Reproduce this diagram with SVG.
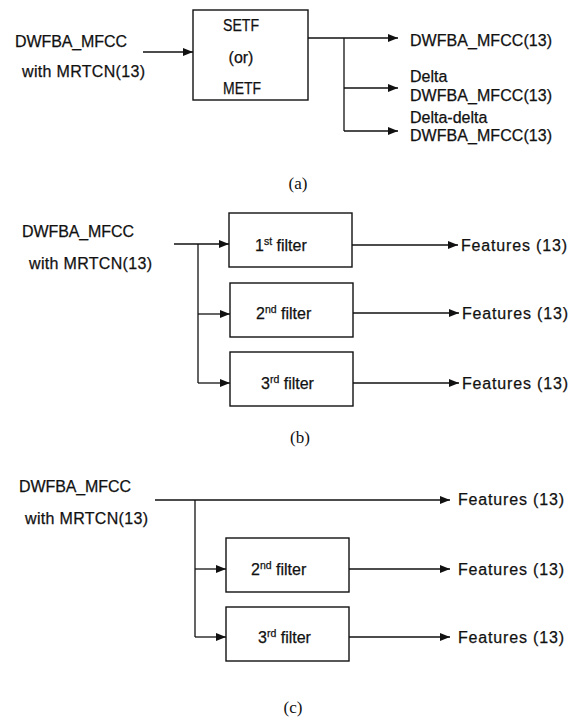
<svg xmlns="http://www.w3.org/2000/svg" width="579" height="722" viewBox="0 0 579 722">
  <style>
    .lbl { font-family: "Liberation Sans", Arial, sans-serif; font-size: 16px; fill: #111; stroke: #111; stroke-width: 0.25; }
    .cap { font-family: "Liberation Serif", "Times New Roman", serif; font-size: 17px; fill: #111; }
    .box { fill: #fff; stroke: #111; stroke-width: 1.4; }
    .wire { fill: none; stroke: #111; stroke-width: 1.3; }
    .sup { font-size: 10.5px; }
  </style>
  <defs>
    <marker id="arr" viewBox="0 0 10 8" refX="10" refY="4" markerWidth="10" markerHeight="8" markerUnits="userSpaceOnUse" orient="auto">
      <path d="M0,0 L10,4 L0,8 Z" fill="#111"/>
    </marker>
  </defs>
  <rect width="579" height="722" fill="#fff"/>

  <!-- (a) SETF / METF stage -->
  <g id="a-input">
    <text class="lbl" x="15" y="47" textLength="112" lengthAdjust="spacing">DWFBA_MFCC</text>
    <text class="lbl" x="22" y="77" textLength="123" lengthAdjust="spacing">with MRTCN(13)</text>
  </g>
  <g id="a-filter">
    <rect class="box" x="193" y="10" width="115" height="90"/>
    <text class="lbl" x="241" y="31" text-anchor="middle" textLength="36" lengthAdjust="spacingAndGlyphs">SETF</text>
    <text class="lbl" x="241" y="63" text-anchor="middle">(or)</text>
    <text class="lbl" x="242" y="94" text-anchor="middle" textLength="38" lengthAdjust="spacingAndGlyphs">METF</text>
  </g>
  <g id="a-outputs">
    <text class="lbl" x="410" y="46" textLength="142" lengthAdjust="spacing">DWFBA_MFCC(13)</text>
    <text class="lbl" x="410" y="82">Delta</text>
    <text class="lbl" x="410" y="101" textLength="142" lengthAdjust="spacing">DWFBA_MFCC(13)</text>
    <text class="lbl" x="410" y="123">Delta-delta</text>
    <text class="lbl" x="410" y="141" textLength="142" lengthAdjust="spacing">DWFBA_MFCC(13)</text>
  </g>
  <text id="cap-a" class="cap" x="298" y="189" text-anchor="middle">(a)</text>

  <!-- (b) three filters in parallel -->
  <g id="b-input">
    <text class="lbl" x="22" y="237" textLength="112" lengthAdjust="spacing">DWFBA_MFCC</text>
    <text class="lbl" x="29" y="269" textLength="123" lengthAdjust="spacing">with MRTCN(13)</text>
  </g>
  <g id="b-filter1">
    <rect class="box" x="229" y="213" width="123" height="54"/>
    <text class="lbl" x="255" y="251">1<tspan class="sup" dy="-6">st</tspan><tspan dy="6"> filter</tspan></text>
  </g>
  <g id="b-filter2">
    <rect class="box" x="230" y="283" width="123" height="54"/>
    <text class="lbl" x="256" y="319">2<tspan class="sup" dy="-6">nd</tspan><tspan dy="6"> filter</tspan></text>
  </g>
  <g id="b-filter3">
    <rect class="box" x="230" y="352" width="123" height="54"/>
    <text class="lbl" x="261" y="389">3<tspan class="sup" dy="-6">rd</tspan><tspan dy="6"> filter</tspan></text>
  </g>
  <g id="b-outputs">
    <text class="lbl" x="461" y="251" textLength="106" lengthAdjust="spacing">Features (13)</text>
    <text class="lbl" x="462" y="319" textLength="106" lengthAdjust="spacing">Features (13)</text>
    <text class="lbl" x="462" y="389" textLength="106" lengthAdjust="spacing">Features (13)</text>
  </g>
  <text id="cap-b" class="cap" x="300" y="443" text-anchor="middle">(b)</text>

  <!-- (c) bypass plus two filters -->
  <g id="c-input">
    <text class="lbl" x="19" y="492" textLength="112" lengthAdjust="spacing">DWFBA_MFCC</text>
    <text class="lbl" x="25" y="524" textLength="123" lengthAdjust="spacing">with MRTCN(13)</text>
  </g>
  <g id="c-filter2">
    <rect class="box" x="226" y="538" width="123" height="54"/>
    <text class="lbl" x="251" y="575">2<tspan class="sup" dy="-6">nd</tspan><tspan dy="6"> filter</tspan></text>
  </g>
  <g id="c-filter3">
    <rect class="box" x="226" y="607" width="123" height="54"/>
    <text class="lbl" x="258" y="643">3<tspan class="sup" dy="-6">rd</tspan><tspan dy="6"> filter</tspan></text>
  </g>
  <g id="c-outputs">
    <text class="lbl" x="458" y="505" textLength="106" lengthAdjust="spacing">Features (13)</text>
    <text class="lbl" x="458" y="575" textLength="106" lengthAdjust="spacing">Features (13)</text>
    <text class="lbl" x="458" y="643" textLength="106" lengthAdjust="spacing">Features (13)</text>
  </g>
  <text id="cap-c" class="cap" x="293" y="713" text-anchor="middle">(c)</text>

  <g id="connectors">
    <!-- (a) -->
    <path class="wire" d="M143,52 H193" marker-end="url(#arr)"/>
    <path class="wire" d="M308,38 H398" marker-end="url(#arr)"/>
    <path class="wire" d="M344,38 V131"/>
    <path class="wire" d="M344,88 H398" marker-end="url(#arr)"/>
    <path class="wire" d="M344,131 H398" marker-end="url(#arr)"/>
    <!-- (b) -->
    <path class="wire" d="M174,244 H229" marker-end="url(#arr)"/>
    <path class="wire" d="M198,244 V383"/>
    <path class="wire" d="M198,314 H230" marker-end="url(#arr)"/>
    <path class="wire" d="M198,383 H230" marker-end="url(#arr)"/>
    <path class="wire" d="M352,245 H458" marker-end="url(#arr)"/>
    <path class="wire" d="M353,313 H459" marker-end="url(#arr)"/>
    <path class="wire" d="M353,383 H459" marker-end="url(#arr)"/>
    <!-- (c) -->
    <path class="wire" d="M155,500 H450" marker-end="url(#arr)"/>
    <path class="wire" d="M195,500 V637"/>
    <path class="wire" d="M195,569 H226" marker-end="url(#arr)"/>
    <path class="wire" d="M195,637 H226" marker-end="url(#arr)"/>
    <path class="wire" d="M349,569 H450" marker-end="url(#arr)"/>
    <path class="wire" d="M349,637 H450" marker-end="url(#arr)"/>
  </g>
</svg>
